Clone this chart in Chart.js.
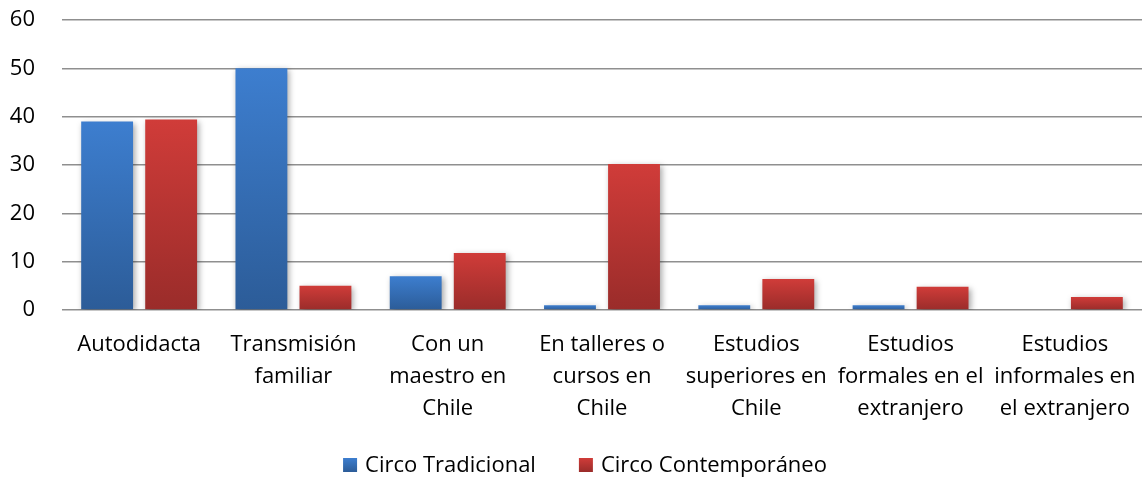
<!DOCTYPE html>
<html>
<head>
<meta charset="utf-8">
<script src="https://cdn.jsdelivr.net/npm/chart.js@4/dist/chart.umd.min.js"></script>
<style>
html,body{margin:0;padding:0;background:#fff;}
#wrap{width:1144px;height:479px;position:relative;}
</style>
</head>
<body>
<div id="wrap"><canvas id="c"></canvas></div>
<script>
const categories = [
  ["Autodidacta"],
  ["Transmisión", "familiar"],
  ["Con un", "maestro en", "Chile"],
  ["En talleres o", "cursos en", "Chile"],
  ["Estudios", "superiores en", "Chile"],
  ["Estudios", "formales en el", "extranjero"],
  ["Estudios", "informales en", "el extranjero"]
];
const seriesNames = ["Circo Tradicional", "Circo Contemporáneo"];
const tradicional = [39, 50, 7, 1, 1, 1, 0];
const contemporaneo = [39.4, 5, 11.8, 30.2, 6.4, 4.8, 2.7];
const yTicks = [0, 10, 20, 30, 40, 50, 60];

const FONT = "'Open Sans', sans-serif";
const COLORS = [['#3d7ecf', '#2c5c98'], ['#d03c39', '#9a2c2a']];

function grad(top, bottom) {
  return function (ctx) {
    const chart = ctx.chart;
    const y = chart.scales.y;
    if (!y || ctx.type !== 'data') return top;
    const v = ctx.raw || 0;
    const yTop = y.getPixelForValue(v);
    const yBot = y.getPixelForValue(0);
    if (!isFinite(yTop) || !isFinite(yBot) || yTop === yBot) return top;
    const g = chart.ctx.createLinearGradient(0, yTop, 0, yBot);
    g.addColorStop(0, top);
    g.addColorStop(1, bottom);
    return g;
  };
}

const shadowPlugin = {
  id: 'barShadow',
  beforeDatasetsDraw(chart) {
    const c = chart.ctx;
    c.save();
    c.shadowColor = 'rgba(0,0,0,0.35)';
    c.shadowBlur = 6;
    c.shadowOffsetX = 2;
    c.shadowOffsetY = 2;
  },
  afterDatasetsDraw(chart) {
    chart.ctx.restore();
  }
};

// Legend drawn below the axis labels (overlapping layout area, as in the original)
const bottomLegend = {
  id: 'bottomLegend',
  afterDraw(chart) {
    const c = chart.ctx;
    const cy = 465, box = 14, gap = 8, itemGap = 43, centerX = 585;
    c.save();
    c.font = "22px " + FONT;
    c.textBaseline = 'middle';
    c.textAlign = 'left';
    const items = chart.data.datasets.map((d, i) => ({ text: d.label, cols: COLORS[i], w: c.measureText(d.label).width }));
    let total = 0;
    items.forEach((it, i) => { total += box + gap + it.w + (i ? itemGap : 0); });
    let x = centerX - total / 2;
    items.forEach((it) => {
      const g = c.createLinearGradient(0, cy - box / 2, 0, cy + box / 2);
      g.addColorStop(0, it.cols[0]);
      g.addColorStop(1, it.cols[1]);
      c.fillStyle = g;
      c.fillRect(x, cy - box / 2, box, box);
      x += box + gap;
      c.fillStyle = '#000';
      c.fillText(it.text, x, cy + 1);
      x += it.w + itemGap;
    });
    c.restore();
  }
};

new Chart(document.getElementById('c'), {
  type: 'bar',
  data: {
    labels: categories,
    datasets: [
      {
        label: seriesNames[0],
        data: tradicional,
        backgroundColor: grad(COLORS[0][0], COLORS[0][1]),
        borderWidth: 0
      },
      {
        label: seriesNames[1],
        data: contemporaneo,
        backgroundColor: grad(COLORS[1][0], COLORS[1][1]),
        borderWidth: 0
      }
    ]
  },
  plugins: [shadowPlugin, bottomLegend],
  options: {
    responsive: true,
    maintainAspectRatio: false,
    animation: false,
    devicePixelRatio: 1,
    layout: { padding: { top: 20, left: 0, right: 2, bottom: 0 } },
    datasets: {
      bar: { categoryPercentage: 0.83, barPercentage: 0.81 }
    },
    scales: {
      x: {
        grid: { display: false, drawTicks: false },
        border: { display: false },
        afterFit(axis) {
          axis.height = 169;
          axis.paddingLeft = 0;
          axis.paddingRight = 0;
        },
        ticks: {
          color: '#000',
          font: { family: FONT, size: 22, lineHeight: 1.45 },
          maxRotation: 0,
          minRotation: 0,
          autoSkip: false,
          padding: 19
        }
      },
      y: {
        min: 0,
        max: 60,
        afterBuildTicks(axis) { axis.ticks = yTicks.map(v => ({ value: v })); },
        afterFit(axis) {
          axis.width = 62;
          axis.paddingTop = 0;
          axis.paddingBottom = 0;
        },
        grid: { color: '#8f8f8f', lineWidth: 1.5, drawTicks: false },
        border: { display: false },
        ticks: {
          color: '#000',
          font: { family: FONT, size: 22 },
          padding: 27
        }
      }
    },
    plugins: {
      tooltip: { enabled: false },
      legend: { display: false }
    }
  }
});
</script>
</body>
</html>
